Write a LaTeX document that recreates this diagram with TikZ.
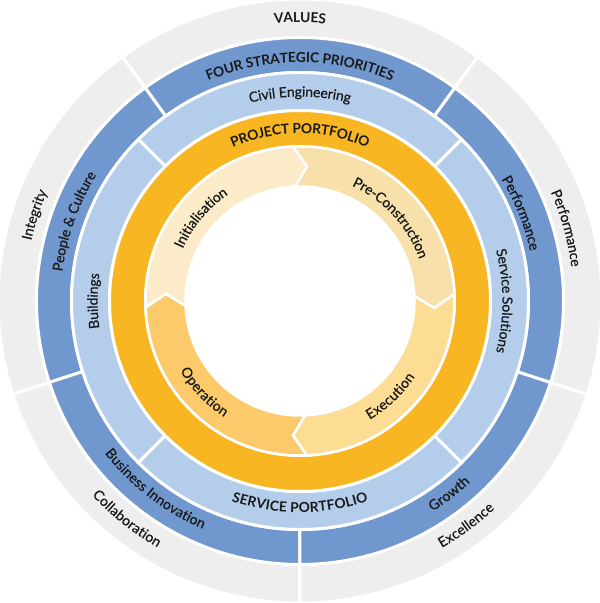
\documentclass[tikz,border=0pt]{standalone}
\usepackage{fontspec}
\setmainfont{Lato}
\newfontfamily\lblfam{Lato}[FakeBold=0.6]
\usetikzlibrary{decorations.text}
\definecolor{grayc}{HTML}{EEEEEE}
\definecolor{dblue}{HTML}{7097CE}
\definecolor{lblue}{HTML}{B3CDEB}
\definecolor{orng}{HTML}{F8B623}
\definecolor{cinit}{HTML}{FBEBC9}
\definecolor{cpre}{HTML}{F7E0AA}
\definecolor{cexe}{HTML}{FDDC94}
\definecolor{cope}{HTML}{FCCA6A}
\definecolor{txt}{HTML}{1A1A1A}
\tikzset{sector/.style={draw=white, line width=3pt, line join=miter}}
\newcommand\ringsec[5]{\filldraw[sector,fill=#1] (#4:#3pt) arc[start angle=#4, end angle=#5, radius=#3pt] -- (#5:#2pt) arc[start angle=#5, end angle=#4, radius=#2pt] -- cycle;}
\newcommand\chevsec[3]{\filldraw[sector,line width=2.5pt,fill=#1] (#2:154.5pt) arc[start angle=#2, end angle=#3, radius=154.5pt] -- (#3-5.5:134.5pt) -- (#3:114.5pt) arc[start angle=#3, end angle=#2, radius=114.5pt] -- (#2-5.5:134.5pt) -- cycle;}
\newcommand\lblfont{\lblfam\fontsize{14}{16}\selectfont}
\newcommand\hdrfont{\fontsize{13.8}{16}\selectfont\bfseries}
% #1 start angle, #2 end angle, #3 radius, #4 font, #5 text
\newcommand\arctext[5]{\path[decorate, decoration={text along path, text align=center, raise=-4.6pt, text color=txt, text={|#4|#5}}] (#1:#3pt) arc[start angle=#1, end angle=#2, radius=#3pt];}
\begin{document}
\begin{tikzpicture}
\useasboundingbox (-300pt,-302pt) rectangle (300pt,301pt);
% outer rings
\foreach \a in {54,126,198,270,342} {\ringsec{grayc}{263.5}{302}{\a}{\a+72}}
\foreach \a in {54,126,198,270,342} {\ringsec{dblue}{228.5}{263.5}{\a}{\a+72}}
\foreach \a in {45,135,225,315} {\ringsec{lblue}{190.5}{228.5}{\a}{\a+90}}
\filldraw[sector, fill=orng, even odd rule] (0,0) circle (190.5pt) (0,0) circle (154.5pt);
% inner cycle
\chevsec{cinit}{182.5}{92.5}
\chevsec{cpre}{92.5}{2.5}
\chevsec{cexe}{2.5}{-87.5}
\chevsec{cope}{-87.5}{-177.5}
% top labels (clockwise)
\arctext{150}{30}{283}{\hdrfont}{VALUES}
\arctext{150}{30}{243}{\hdrfont}{FOUR STRATEGIC PRIORITIES}
\arctext{150}{30}{209}{\lblfont}{Civil Engineering}
\arctext{150}{30}{172}{\hdrfont}{PROJECT PORTFOLIO}
% left / right labels (clockwise)
\arctext{222}{102}{280}{\lblfont}{Integrity}
\arctext{220.6}{100.6}{244}{\lblfont}{People {\&} Culture}
\arctext{240}{120}{207}{\lblfont}{Buildings}
\arctext{200}{80}{133}{\lblfont}{Initialisation}
\arctext{102.5}{-17.5}{131}{\lblfont}{Pre-Construction}
\arctext{60}{-60}{207}{\lblfont}{Service Solutions}
\arctext{81.7}{-38.3}{240}{\lblfont}{Performance}
\arctext{75.3}{-44.7}{278}{\lblfont}{Performance}
% bottom labels (counter-clockwise)
\arctext{210}{330}{207}{\hdrfont}{SERVICE PORTFOLIO}
\arctext{172.4}{292.4}{243}{\lblfont}{Business Innovation}
\arctext{171.5}{291.5}{280}{\lblfont}{Collaboration}
\arctext{247.7}{367.7}{244}{\lblfont}{Growth}
\arctext{246.5}{366.5}{280}{\lblfont}{Excellence}
\arctext{253.5}{373.5}{133}{\lblfont}{Execution}
\arctext{163.5}{283.5}{134}{\lblfont}{Operation}
\end{tikzpicture}
\end{document}
